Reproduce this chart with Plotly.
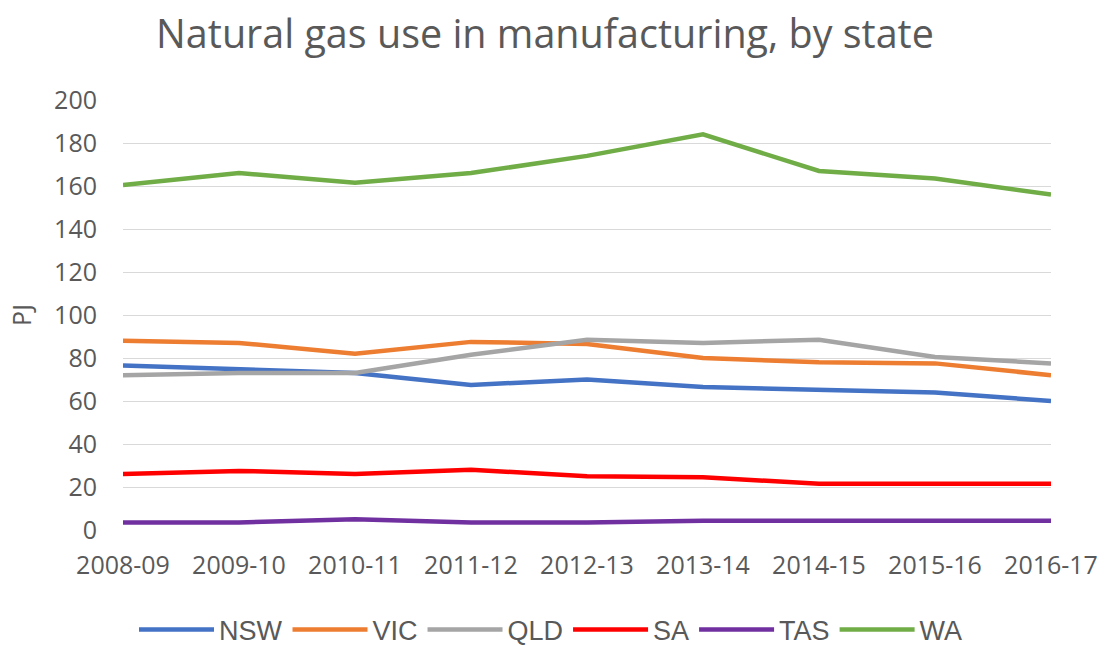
import plotly.graph_objects as go

years = ["2008-09", "2009-10", "2010-11", "2011-12", "2012-13",
         "2013-14", "2014-15", "2015-16", "2016-17"]
nsw = [76.5, 74.5, 73, 67.5, 70, 66.5, 65.5, 64, 60]
vic = [88, 87, 82, 87.5, 86.5, 80, 78, 77.5, 72]
qld = [72, 73, 73, 81.5, 88.5, 87, 88.5, 80.5, 77.5]
sa = [26, 27.5, 26, 28, 25, 24.5, 21.5, 21.5, 21.5]
tas = [3.5, 3.5, 5, 3.5, 3.5, 4.3, 4.3, 4.3, 4.3]
wa = [160.5, 166, 161.5, 166, 174, 184, 167, 163.5, 156]

series = [
    ("NSW", nsw, "#4472C4"),
    ("VIC", vic, "#ED7D31"),
    ("QLD", qld, "#A5A5A5"),
    ("SA", sa, "#FF0000"),
    ("TAS", tas, "#7030A0"),
    ("WA", wa, "#70AD47"),
]

fig = go.Figure()
for name, vals, color in series:
    fig.add_trace(go.Scatter(
        x=list(range(len(years))), y=vals, name=name, mode="lines",
        line=dict(color=color, width=4.5),
    ))

tick_font = dict(family="Open Sans, sans-serif", size=25, color="#595959")

fig.update_layout(
    width=1112, height=646,
    paper_bgcolor="white", plot_bgcolor="white",
    margin=dict(l=123, r=61, t=100, b=116, autoexpand=False),
    title=dict(
        text="Natural gas use in manufacturing, by state",
        x=545 / 1112, xanchor="center", xref="container",
        y=1 - 34 / 646, yanchor="middle", yref="container",
        font=dict(family="Open Sans, sans-serif", size=39.5, color="#595959"),
    ),
    xaxis=dict(
        range=[0, len(years) - 1], automargin=False,
        tickmode="array", tickvals=list(range(len(years))), ticktext=years,
        showgrid=False, zeroline=False, showline=False,
        tickfont=tick_font, ticklabelstandoff=18,
    ),
    yaxis=dict(
        range=[0, 200], dtick=20, tick0=0, automargin=False,
        showgrid=True, gridcolor="#D9D9D9", gridwidth=1.3,
        zeroline=False, showline=False,
        tickfont=tick_font, ticklabelstandoff=25,
        title=dict(text="PJ", standoff=15,
                   font=dict(family="Open Sans, sans-serif", size=25, color="#595959")),
    ),
    showlegend=True,
    legend=dict(
        orientation="h", x=551 / 1112, xanchor="center", xref="container",
        y=1 - 630 / 646, yanchor="middle", yref="container",
        font=dict(family="Liberation Sans Narrow, Arial Narrow, Liberation Sans, sans-serif",
                  size=27, color="#595959"),
        itemwidth=75, bgcolor="rgba(0,0,0,0)",
    ),
)

fig.write_html("out.html", config={"displayModeBar": False},
               post_script="document.body.style.margin='0';")
